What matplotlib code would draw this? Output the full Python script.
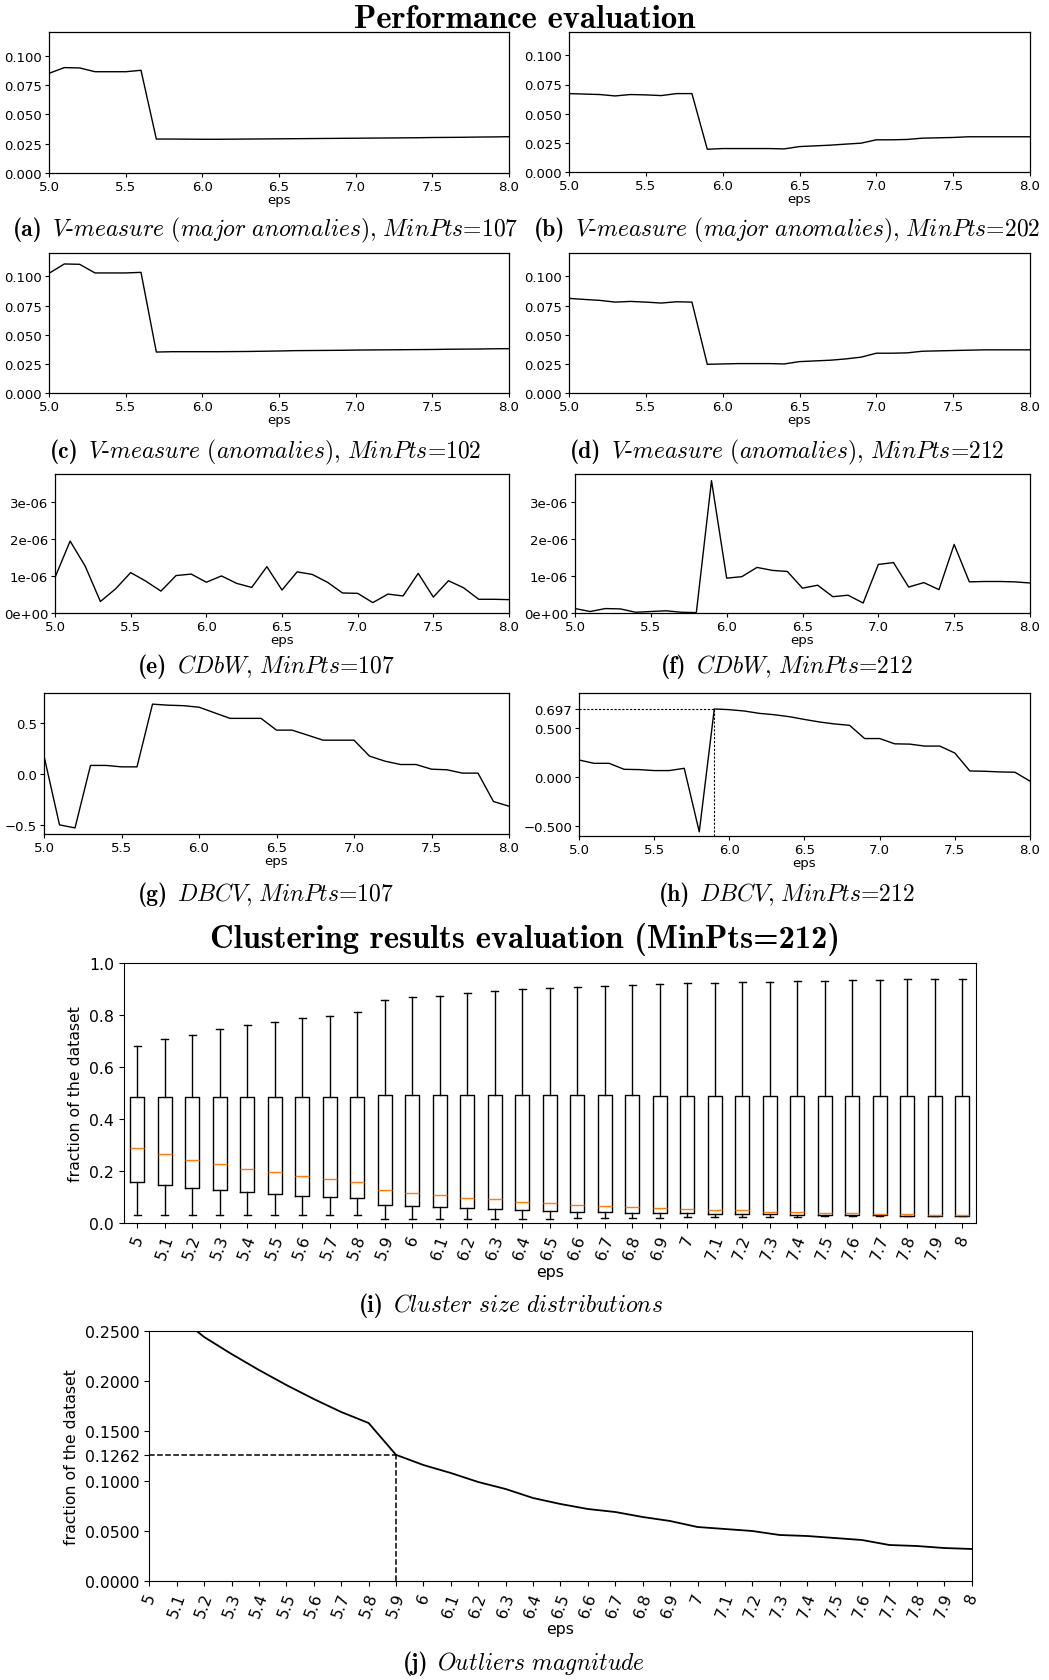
import numpy as np
import matplotlib
matplotlib.use("Agg")
import matplotlib.pyplot as plt
from matplotlib.ticker import FormatStrFormatter, FuncFormatter

plt.rcParams["mathtext.fontset"] = "cm"

# eps grid shared by every panel
eps = [5.0, 5.1, 5.2, 5.3, 5.4, 5.5, 5.6, 5.7, 5.8, 5.9,
       6.0, 6.1, 6.2, 6.3, 6.4, 6.5, 6.6, 6.7, 6.8, 6.9,
       7.0, 7.1, 7.2, 7.3, 7.4, 7.5, 7.6, 7.7, 7.8, 7.9, 8.0]
eps_labels = ["5", "5.1", "5.2", "5.3", "5.4", "5.5", "5.6", "5.7", "5.8", "5.9",
              "6", "6.1", "6.2", "6.3", "6.4", "6.5", "6.6", "6.7", "6.8", "6.9",
              "7", "7.1", "7.2", "7.3", "7.4", "7.5", "7.6", "7.7", "7.8", "7.9", "8"]

# performance evaluation
vm_major_107 = [0.0848, 0.0897, 0.0894, 0.0862, 0.0862, 0.0862, 0.0874, 0.0289, 0.0289, 0.0288,
                0.0287, 0.0287, 0.0288, 0.0289, 0.0290, 0.0291, 0.0292, 0.0293, 0.0294, 0.0295,
                0.0296, 0.0297, 0.0298, 0.0299, 0.0300, 0.0302, 0.0303, 0.0304, 0.0306, 0.0307, 0.0309]
vm_major_202 = [0.0672, 0.0668, 0.0664, 0.0652, 0.0664, 0.0661, 0.0655, 0.0672, 0.0672, 0.0195,
                0.0201, 0.0201, 0.0201, 0.0201, 0.0198, 0.0218, 0.0224, 0.0230, 0.0239, 0.0247,
                0.0276, 0.0276, 0.0279, 0.0290, 0.0293, 0.0296, 0.0302, 0.0302, 0.0302, 0.0302, 0.0302]
vm_anom_102 = [0.1026, 0.1106, 0.1103, 0.1029, 0.1029, 0.1029, 0.1034, 0.0351, 0.0354, 0.0354,
               0.0354, 0.0354, 0.0355, 0.0356, 0.0358, 0.0360, 0.0363, 0.0364, 0.0365, 0.0366,
               0.0368, 0.0369, 0.0370, 0.0371, 0.0372, 0.0373, 0.0375, 0.0376, 0.0377, 0.0379, 0.0380]
vm_anom_212 = [0.0811, 0.0802, 0.0794, 0.0779, 0.0785, 0.0779, 0.0771, 0.0782, 0.0779, 0.0246,
               0.0249, 0.0252, 0.0252, 0.0252, 0.0249, 0.0269, 0.0275, 0.0281, 0.0292, 0.0307,
               0.0341, 0.0341, 0.0344, 0.0358, 0.0361, 0.0364, 0.0367, 0.0370, 0.0370, 0.0370, 0.0370]
# CDbW in units of 1e-06
cdbw_107 = [0.96, 1.94, 1.26, 0.31, 0.65, 1.09, 0.86, 0.59, 1.01, 1.05,
            0.83, 1.00, 0.80, 0.69, 1.25, 0.62, 1.11, 1.04, 0.83, 0.54,
            0.53, 0.28, 0.51, 0.46, 1.07, 0.43, 0.87, 0.68, 0.37, 0.37, 0.36]
cdbw_212 = [0.12, 0.04, 0.12, 0.11, 0.02, 0.04, 0.06, 0.02, 0.01, 3.57,
            0.94, 0.98, 1.23, 1.15, 1.12, 0.67, 0.75, 0.44, 0.48, 0.27,
            1.31, 1.36, 0.70, 0.82, 0.63, 1.85, 0.84, 0.85, 0.85, 0.84, 0.81]
dbcv_107 = [0.18, -0.50, -0.53, 0.086, 0.086, 0.072, 0.072, 0.69, 0.68, 0.675,
            0.66, 0.605, 0.55, 0.55, 0.55, 0.434, 0.434, 0.385, 0.335, 0.335,
            0.335, 0.178, 0.128, 0.095, 0.095, 0.049, 0.043, 0.01, 0.01, -0.27, -0.316]
dbcv_212 = [0.176, 0.142, 0.142, 0.081, 0.078, 0.068, 0.068, 0.091, -0.557, 0.697,
            0.690, 0.676, 0.652, 0.638, 0.618, 0.590, 0.564, 0.544, 0.530, 0.395,
            0.395, 0.341, 0.338, 0.318, 0.318, 0.247, 0.064, 0.061, 0.054, 0.051, -0.04]

# cluster size distributions (MinPts=212)
box_whislo = [0.030, 0.030, 0.030, 0.030, 0.031, 0.031, 0.031, 0.032, 0.032, 0.014,
              0.015, 0.015, 0.016, 0.016, 0.017, 0.017, 0.018, 0.019, 0.020, 0.020,
              0.024, 0.024, 0.024, 0.024, 0.024, 0.026, 0.026, 0.026, 0.026, 0.026, 0.026]
box_q1 = [0.159, 0.146, 0.136, 0.128, 0.119, 0.112, 0.105, 0.100, 0.095, 0.069,
          0.065, 0.062, 0.058, 0.054, 0.050, 0.047, 0.044, 0.042, 0.040, 0.039,
          0.037, 0.036, 0.035, 0.033, 0.032, 0.031, 0.031, 0.030, 0.028, 0.028, 0.028]
box_med = [0.290, 0.264, 0.244, 0.226, 0.209, 0.195, 0.181, 0.168, 0.158, 0.126,
           0.114, 0.107, 0.098, 0.091, 0.082, 0.077, 0.071, 0.067, 0.062, 0.058,
           0.053, 0.050, 0.049, 0.044, 0.041, 0.040, 0.037, 0.033, 0.033, 0.031, 0.029]
box_q3 = [0.485, 0.485, 0.485, 0.485, 0.484, 0.484, 0.484, 0.483, 0.483, 0.493,
          0.493, 0.493, 0.493, 0.493, 0.493, 0.492, 0.492, 0.491, 0.491, 0.490,
          0.488, 0.488, 0.488, 0.487, 0.487, 0.487, 0.487, 0.487, 0.487, 0.487, 0.487]
box_whishi = [0.682, 0.707, 0.725, 0.745, 0.760, 0.775, 0.787, 0.797, 0.810, 0.858,
              0.868, 0.874, 0.884, 0.891, 0.899, 0.904, 0.909, 0.911, 0.917, 0.919,
              0.922, 0.924, 0.926, 0.928, 0.929, 0.931, 0.933, 0.936, 0.937, 0.938, 0.940]

# outliers fraction
outliers = [0.290, 0.266, 0.244, 0.227, 0.211, 0.196, 0.182, 0.169, 0.158, 0.1262,
            0.116, 0.108, 0.099, 0.092, 0.083, 0.077, 0.072, 0.069, 0.064, 0.060,
            0.054, 0.052, 0.050, 0.046, 0.045, 0.043, 0.041, 0.036, 0.035, 0.033, 0.032]

W, H = 1049, 1681
fig = plt.figure(figsize=(W / 100, H / 100), dpi=100)
renderer = fig.canvas.get_renderer()

SMALL = 9.5
BIG = 11.3
CAP = 17
TITLE = 23.5


def add_ax(left, top, right, bottom):
    return fig.add_axes([left / W, 1 - bottom / H, (right - left) / W, (bottom - top) / H])


def unicode_minus(fmt):
    return FuncFormatter(lambda v, p: (fmt % v).replace("-", "\u2212"))


def italic(s):
    s = s.replace(" ", r"\ ")
    for ch in "-=,":
        s = s.replace(ch, r"}\text{" + ch + r"}\mathit{")
    return r"$\mathit{" + s + "}$"


def caption(x, y, label, body):
    # bold label and italic body, centred together on x
    yb = 1 - (y + 5) / H
    t1 = fig.text(0, yb, "(" + label + ")", family="cmb10", fontsize=CAP, va="baseline")
    t2 = fig.text(0, yb, italic(body), fontsize=CAP, va="baseline")
    w1 = t1.get_window_extent(renderer).width
    w2 = t2.get_window_extent(renderer).width
    gap = 0.4 * CAP * 100 / 72
    start = x - (w1 + gap + w2) / 2
    t1.set_x(start / W)
    t2.set_x((start + w1 + gap) / W)


def small_panel(rect, values, ylim, yticks, fmt):
    ax = add_ax(*rect)
    ax.plot(eps, values, color="black", lw=1.0)
    ax.set_xlim(5, 8)
    ax.set_ylim(*ylim)
    ax.set_xticks([5.0, 5.5, 6.0, 6.5, 7.0, 7.5, 8.0])
    ax.xaxis.set_major_formatter(FormatStrFormatter("%.1f"))
    ax.set_yticks(yticks)
    ax.yaxis.set_major_formatter(fmt)
    ax.tick_params(labelsize=SMALL, length=3, width=0.8, pad=2)
    ax.set_xlabel("eps", fontsize=SMALL, labelpad=0)
    for s in ax.spines.values():
        s.set_linewidth(0.9)
    return ax


vm_ticks = [0, 0.025, 0.05, 0.075, 0.1]
vm_fmt = FormatStrFormatter("%.3f")
small_panel((49, 33, 509, 174), vm_major_107, (0, 0.12), vm_ticks, vm_fmt)
small_panel((569, 33, 1030, 173), vm_major_202, (0, 0.12), vm_ticks, vm_fmt)
small_panel((49, 254, 509, 394), vm_anom_102, (0, 0.12), vm_ticks, vm_fmt)
small_panel((569, 254, 1030, 394), vm_anom_212, (0, 0.12), vm_ticks, vm_fmt)

cd_ticks = [0, 1e-6, 2e-6, 3e-6]
cd_fmt = FormatStrFormatter("%.0e")
small_panel((55, 475, 509, 614), np.array(cdbw_107) * 1e-6, (0, 3.75e-6), cd_ticks, cd_fmt)
small_panel((575, 475, 1030, 614), np.array(cdbw_212) * 1e-6, (0, 3.75e-6), cd_ticks, cd_fmt)

small_panel((44, 694, 509, 835), dbcv_107, (-0.59, 0.80), [-0.5, 0.0, 0.5], unicode_minus("%.1f"))
best = int(np.argmax(dbcv_212))
ax_h = small_panel((579, 694, 1030, 837), dbcv_212, (-0.60, 0.86),
                   [-0.5, 0.0, 0.5, dbcv_212[best]], unicode_minus("%.3f"))
ax_h.plot([5.0, eps[best]], [dbcv_212[best]] * 2, color="black", lw=0.8, ls=(0, (2, 1.5)))
ax_h.plot([eps[best]] * 2, [-0.60, dbcv_212[best]], color="black", lw=0.8, ls=(0, (2, 1.5)))

fig.text(525 / W, 1 - 19 / H, "Performance evaluation", family="cmb10",
         fontsize=TITLE, ha="center", va="center")
caption(266, 231, "a", "V-measure (major anomalies), MinPts=107")
caption(787, 231, "b", "V-measure (major anomalies), MinPts=202")
caption(266, 453, "c", "V-measure (anomalies), MinPts=102")
caption(787, 453, "d", "V-measure (anomalies), MinPts=212")
caption(266, 668, "e", "CDbW, MinPts=107")
caption(787, 668, "f", "CDbW, MinPts=212")
caption(266, 896, "g", "DBCV, MinPts=107")
caption(787, 896, "h", "DBCV, MinPts=212")

# (i) cluster size distributions
fig.text(525 / W, 1 - 940 / H, "Clustering results evaluation (MinPts=212)", family="cmb10",
         fontsize=TITLE, ha="center", va="center")
ax_i = add_ax(123.5, 964, 976, 1224)
stats = []
for k in range(len(eps)):
    stats.append(dict(whislo=box_whislo[k], q1=box_q1[k], med=box_med[k],
                      q3=box_q3[k], whishi=box_whishi[k], fliers=[]))
pos = list(range(1, len(eps) + 1))
ax_i.bxp(stats, positions=pos, widths=0.5, showfliers=False,
         boxprops=dict(color="black", lw=1.0),
         whiskerprops=dict(color="black", lw=1.0),
         capprops=dict(color="black", lw=1.0),
         medianprops=dict(color="#ff7f0e", lw=1.0))
ax_i.set_xlim(0.5, len(eps) + 0.5)
ax_i.set_ylim(0, 1)
ax_i.set_xticks(pos, eps_labels, rotation=70)
ax_i.tick_params(labelsize=BIG)
ax_i.set_xlabel("eps", fontsize=BIG, labelpad=2)
ax_i.set_ylabel("fraction of the dataset", fontsize=BIG)
caption(511, 1307, "i", "Cluster size distributions")

# (j) outliers magnitude
ax_j = add_ax(149.3, 1332, 971.6, 1582)
k59 = eps.index(5.9)
ax_j.plot(eps, outliers, color="black", lw=1.3)
ax_j.plot([5.0, eps[k59]], [outliers[k59]] * 2, color="black", lw=1.1, ls="--")
ax_j.plot([eps[k59]] * 2, [0, outliers[k59]], color="black", lw=1.1, ls="--")
ax_j.set_xlim(5, 8)
ax_j.set_ylim(0, 0.25)
ax_j.set_yticks([0, 0.05, 0.1, outliers[k59], 0.15, 0.2, 0.25])
ax_j.yaxis.set_major_formatter(FormatStrFormatter("%.4f"))
ax_j.set_xticks(eps, eps_labels, rotation=70)
ax_j.tick_params(labelsize=BIG)
ax_j.set_xlabel("eps", fontsize=BIG, labelpad=1)
ax_j.set_ylabel("fraction of the dataset", fontsize=BIG)
caption(524, 1665, "j", "Outliers magnitude")

fig.savefig("out.png", dpi=100)
